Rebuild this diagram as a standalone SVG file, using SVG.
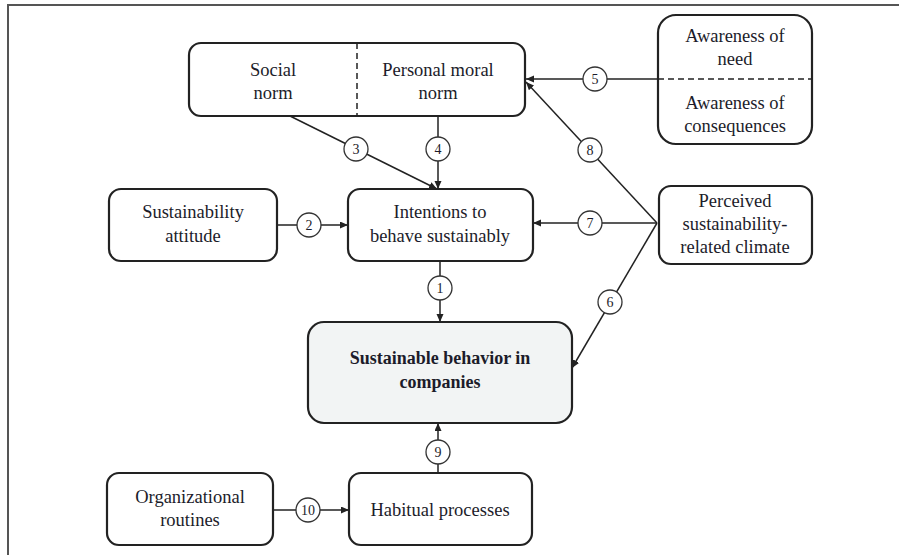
<svg xmlns="http://www.w3.org/2000/svg" width="899" height="555" viewBox="0 0 899 555">
<defs>
<marker id="ah" markerWidth="9" markerHeight="8" refX="8" refY="3.5" orient="auto" markerUnits="userSpaceOnUse">
<path d="M0,0 L8,3.5 L0,7 z" fill="#222"/>
</marker>
<style>
.box{fill:#fff;stroke:#222;stroke-width:2.2}
.main{fill:#f2f4f4;stroke:#222;stroke-width:2.2}
text{font-family:'Liberation Serif',serif}
.t{font-size:18.5px;fill:#1c1c2a;text-anchor:middle}
.b{font-weight:bold;font-size:18px}
.ln{stroke:#222;stroke-width:1.5;fill:none}
.arr{marker-end:url(#ah)}
.dash{stroke:#222;stroke-width:1.5;stroke-dasharray:6,4}
.c{fill:#fff;stroke:#333;stroke-width:1.3}
.n{font-size:14px;fill:#1c1c2a;text-anchor:middle}
</style>
</defs>
<rect width="899" height="555" fill="#fff"/>
<path d="M8,555 L8,5 L899,5" fill="none" stroke="#555" stroke-width="2"/>

<g id="connectors">
<line class="ln arr" x1="440" y1="261" x2="440" y2="322"/>
<line class="ln arr" x1="277" y1="225" x2="348" y2="225"/>
<line class="ln arr" x1="290" y1="116" x2="437" y2="189"/>
<line class="ln arr" x1="438" y1="116" x2="438" y2="189"/>
<line class="ln arr" x1="658" y1="79" x2="526" y2="79"/>
<line class="ln arr" x1="657" y1="223" x2="572" y2="368"/>
<line class="ln arr" x1="657" y1="223" x2="533" y2="223"/>
<line class="ln arr" x1="657" y1="223" x2="526" y2="82"/>
<line class="ln arr" x1="438" y1="473" x2="438" y2="423"/>
<line class="ln arr" x1="273" y1="510" x2="349" y2="510"/>
<circle class="c" cx="440" cy="288" r="12"/><text class="n" x="440" y="293">1</text>
<circle class="c" cx="309" cy="225" r="12"/><text class="n" x="309" y="230">2</text>
<circle class="c" cx="356" cy="149" r="12"/><text class="n" x="356" y="154">3</text>
<circle class="c" cx="438" cy="149" r="12"/><text class="n" x="438" y="154">4</text>
<circle class="c" cx="595" cy="79" r="12"/><text class="n" x="595" y="84">5</text>
<circle class="c" cx="610" cy="302" r="12"/><text class="n" x="610" y="307">6</text>
<circle class="c" cx="590" cy="223" r="12"/><text class="n" x="590" y="228">7</text>
<circle class="c" cx="590" cy="150" r="12"/><text class="n" x="590" y="155">8</text>
<circle class="c" cx="438" cy="452" r="12"/><text class="n" x="438" y="457">9</text>
<circle class="c" cx="308" cy="510" r="12"/><text class="n" x="308" y="515">10</text>
</g>

<g id="norms">
<rect class="box" x="189" y="43" width="336" height="73" rx="12"/>
<line class="dash" x1="357" y1="43" x2="357" y2="116"/>
<text class="t" x="273" y="76">Social</text>
<text class="t" x="273" y="99">norm</text>
<text class="t" x="438" y="76">Personal moral</text>
<text class="t" x="438" y="99">norm</text>
</g>

<g id="awareness">
<rect class="box" x="658" y="15" width="154" height="129" rx="18"/>
<line class="dash" x1="658" y1="79" x2="812" y2="79"/>
<text class="t" x="735" y="42">Awareness of</text>
<text class="t" x="735" y="65">need</text>
<text class="t" x="735" y="109">Awareness of</text>
<text class="t" x="735" y="132">consequences</text>
</g>

<g id="attitude">
<rect class="box" x="109" y="189" width="168" height="72" rx="12"/>
<text class="t" x="193" y="218">Sustainability</text>
<text class="t" x="193" y="242">attitude</text>
</g>

<g id="intentions">
<rect class="box" x="348" y="189" width="185" height="72" rx="12"/>
<text class="t" x="440" y="218">Intentions to</text>
<text class="t" x="440" y="242">behave sustainably</text>
</g>

<g id="climate">
<rect class="box" x="659" y="186" width="153" height="78" rx="12"/>
<text class="t" x="735" y="207">Perceived</text>
<text class="t" x="735" y="230">sustainability-</text>
<text class="t" x="735" y="253">related climate</text>
</g>

<g id="behavior">
<rect class="main" x="308" y="322" width="264" height="101" rx="16"/>
<text class="t b" x="440" y="364">Sustainable behavior in</text>
<text class="t b" x="440" y="388">companies</text>
</g>

<g id="routines">
<rect class="box" x="107" y="473" width="166" height="72" rx="12"/>
<text class="t" x="190" y="503">Organizational</text>
<text class="t" x="190" y="526">routines</text>
</g>

<g id="habitual">
<rect class="box" x="349" y="473" width="183" height="72" rx="12"/>
<text class="t" x="440" y="516">Habitual processes</text>
</g>
</svg>
